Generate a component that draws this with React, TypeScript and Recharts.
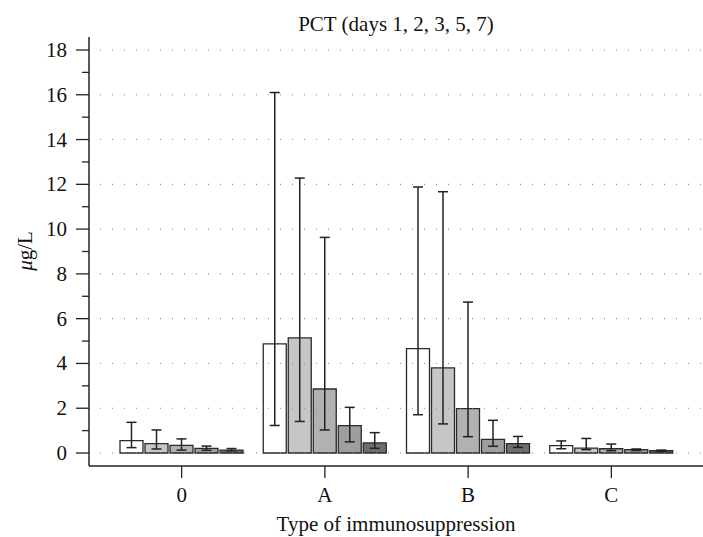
import React from 'react';
import { BarChart, Bar, XAxis, YAxis, ErrorBar, ReferenceLine } from 'recharts';

// PCT per type of immunosuppression, days 1, 2, 3, 5, 7
const groups = ['0', 'A', 'B', 'C'];
const days = ['d1', 'd2', 'd3', 'd5', 'd7'];

const meanD1 = [0.55, 4.87, 4.66, 0.33];
const meanD2 = [0.42, 5.14, 3.8, 0.22];
const meanD3 = [0.34, 2.86, 1.98, 0.19];
const meanD5 = [0.21, 1.22, 0.61, 0.15];
const meanD7 = [0.13, 0.45, 0.42, 0.1];

// error bar ends (low, high)
const lowD1 = [0.24, 1.23, 1.71, 0.19];
const highD1 = [1.37, 16.1, 11.88, 0.54];
const lowD2 = [0.18, 1.41, 1.3, 0.15];
const highD2 = [1.03, 12.28, 11.67, 0.65];
const lowD3 = [0.13, 1.03, 0.73, 0.1];
const highD3 = [0.63, 9.63, 6.74, 0.4];
const lowD5 = [0.12, 0.5, 0.3, 0.11];
const highD5 = [0.31, 2.04, 1.46, 0.18];
const lowD7 = [0.1, 0.21, 0.25, 0.08];
const highD7 = [0.2, 0.91, 0.74, 0.13];

const yTicks = [0, 1, 2, 3, 4, 5, 6, 7, 8, 9, 10, 11, 12, 13, 14, 15, 16, 17, 18];
const gridValues = [0, 2, 4, 6, 8, 10, 12, 14, 16, 18];

const fills = ['#ffffff', '#c5c6c5', '#b1b1b1', '#9e9e9e', '#6e6e6e'];

const means = [meanD1, meanD2, meanD3, meanD5, meanD7];
const lows = [lowD1, lowD2, lowD3, lowD5, lowD7];
const highs = [highD1, highD2, highD3, highD5, highD7];

const data = groups.map((g, i) => {
  const row: any = { group: g };
  days.forEach((d, k) => {
    const v = means[k][i];
    row[d] = v;
    row[d + 'Err'] = [v - lows[k][i], highs[k][i] - v];
  });
  return row;
});

const FONT = '"Liberation Serif", "DejaVu Serif", serif';
const INK = '#222';
const FS = 21;

const YTick = (props: any) => {
  const { x, y, payload } = props;
  const major = payload.value % 2 === 0;
  return (
    <g>
      <line x1={x - (major ? 13 : 7)} y1={y} x2={x} y2={y} stroke={INK} strokeWidth={1.3} />
      {major && (
        <text x={x - 22} y={y} dy={7} textAnchor="end" fontFamily={FONT} fontSize={FS} fill="#111">
          {payload.value}
        </text>
      )}
    </g>
  );
};

const XTick = (props: any) => {
  const { x, y, payload } = props;
  return (
    <text x={x} y={y + 24} textAnchor="middle" fontFamily={FONT} fontSize={FS} fill="#111">
      {payload.value}
    </text>
  );
};

export default function App() {
  return (
    <div style={{ position: 'absolute', left: 0, top: 0, width: 703, height: 537, background: '#fff' }}>
      <BarChart
        width={703}
        height={537}
        data={data}
        margin={{ top: 37, right: 0, left: 0, bottom: 0 }}
        barCategoryGap={10}
        barGap={2}
      >
        <XAxis
          dataKey="group"
          height={71}
          padding={{ left: 21, right: 20 }}
          axisLine={{ stroke: INK, strokeWidth: 1.5 }}
          tickLine={{ stroke: INK, strokeWidth: 1.3 }}
          tickSize={12}
          tickMargin={0}
          tick={<XTick />}
        />
        <YAxis
          width={89}
          domain={[-0.58, 18.58]}
          ticks={yTicks}
          interval={0}
          allowDataOverflow
          axisLine={{ stroke: INK, strokeWidth: 1.5 }}
          tickLine={false}
          tickSize={0}
          tickMargin={0}
          tick={<YTick />}
        />
        {gridValues.map((v) => (
          <ReferenceLine
            key={v}
            y={v}
            stroke="#888"
            strokeWidth={1.1}
            strokeDasharray="1 11"
            strokeDashoffset={1}
          />
        ))}
        {days.map((d, k) => (
          <Bar key={d} dataKey={d} fill={fills[k]} stroke="#2a2a2a" strokeWidth={1.3} isAnimationActive={false}>
            <ErrorBar dataKey={d + 'Err'} width={5} stroke={INK} strokeWidth={1.5} isAnimationActive={false} />
          </Bar>
        ))}
        <text x={396} y={31} textAnchor="middle" fontFamily={FONT} fontSize={FS} fill="#111">
          PCT (days 1, 2, 3, 5, 7)
        </text>
        <text x={396} y={531} textAnchor="middle" fontFamily={FONT} fontSize={FS} fill="#111">
          Type of immunosuppression
        </text>
        <text
          x={0}
          y={0}
          transform="translate(32, 251) rotate(-90)"
          textAnchor="middle"
          fontFamily={FONT}
          fontSize={FS}
          fill="#111"
        >
          <tspan fontStyle="italic">μ</tspan>g/L
        </text>
      </BarChart>
    </div>
  );
}
